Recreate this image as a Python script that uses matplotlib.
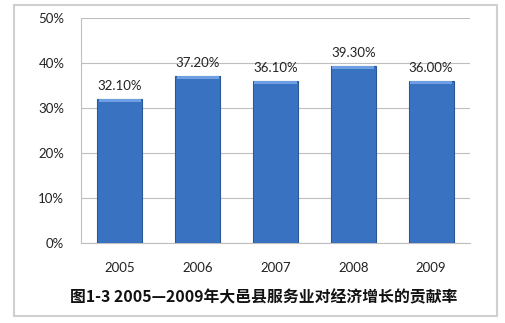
import matplotlib
matplotlib.use("Agg")
import matplotlib.pyplot as plt
from matplotlib.patches import Rectangle
import numpy as np

plt.rcParams['font.family'] = ['Noto Sans CJK SC', 'DejaVu Sans']

years = ["2005", "2006", "2007", "2008", "2009"]
rates = [32.1, 37.2, 36.1, 39.3, 36.0]
rate_labels = ["32.10%", "37.20%", "36.10%", "39.30%", "36.00%"]
title = "图1-3 2005—2009年大邑县服务业对经济增长的贡献率"

fig = plt.figure(figsize=(5.05, 3.23), dpi=100)
W, H = 505, 323

# outer frame
fig.patches.append(Rectangle((14 / W, 1 - 316 / H), (497 - 14) / W, (316 - 5) / H,
                             transform=fig.transFigure, fill=False,
                             edgecolor='#d0d0d0', linewidth=1.5))

ax = fig.add_axes([81 / W, 1 - 243 / H, (470 - 81) / W, (243 - 18) / H])
x = np.arange(len(years))
ax.bar(x, rates, width=0.58, color='#3a72c2', edgecolor='#2a5897', linewidth=0.8, zorder=3)
# light bevel on top of bars
for xi, r in zip(x, rates):
    ax.bar(xi, 0.7, bottom=r - 0.7, width=0.54, color='#6d9fe2', linewidth=0, zorder=4)

for xi, r, lab in zip(x, rates, rate_labels):
    ax.text(xi, r + 1.5, lab, ha='center', va='bottom', fontsize=9.5, color='#222222',
            family='Lato')

ax.set_ylim(0, 50)
ax.set_xlim(-0.5, len(years) - 0.5)
ax.set_yticks(range(0, 51, 10))
ax.set_yticklabels([f"{v}%" for v in range(0, 51, 10)], family='Lato')
ax.set_xticks(x)
ax.set_xticklabels(years, family='Lato')
ax.tick_params(axis='both', length=0, labelsize=9.5, colors='#222222')
ax.tick_params(axis='x', pad=14)
ax.tick_params(axis='y', pad=12)
ax.grid(axis='y', color='#bfbfbf', linewidth=0.8, zorder=0)
for s in ['top', 'right']:
    ax.spines[s].set_visible(False)
ax.spines['left'].set_color('#bfbfbf')
ax.spines['bottom'].set_color('#bfbfbf')

fig.text(264 / W, 1 - 297 / H, title, ha='center', va='center',
         fontsize=11.4, fontweight='bold', color='#111111')

fig.savefig("out.png", dpi=100)
